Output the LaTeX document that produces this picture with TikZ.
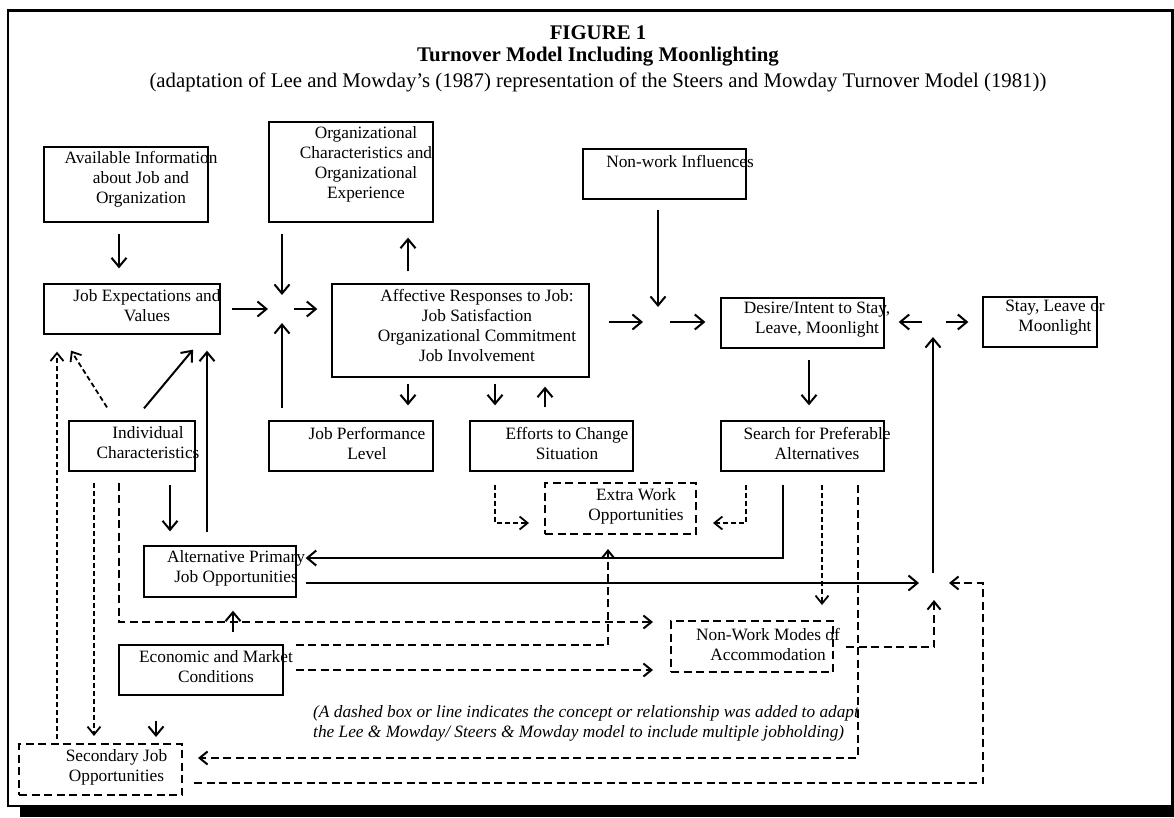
\documentclass[tikz,border=0pt]{standalone}
\usepackage{fontspec}
\setmainfont{Liberation Serif}
\usetikzlibrary{arrows.meta,calc}
\begin{document}
\begin{tikzpicture}[x=1pt,y=-1pt,
  box/.style={draw, rectangle, line width=1.3pt, inner sep=0pt},
  dbox/.style={draw, rectangle, line width=2pt, dash pattern=on 8pt off 4.5pt, inner sep=0pt},
  txt/.style={inner sep=0pt, align=center, font=\fontsize{17.3}{20}\selectfont},
  ttl/.style={inner sep=0pt, font=\fontsize{20.8}{24}\selectfont},
  arr/.style={line width=2pt, -{Straight Barb[length=9pt,width=15pt]}},
  darr/.style={line width=2pt, dash pattern=on 8pt off 4.5pt, -{Straight Barb[length=8pt,width=13pt]}},
  sdarr/.style={line width=1.8pt, dash pattern=on 5pt off 3pt, -{Straight Barb[length=8pt,width=13pt]}}
]
\useasboundingbox (0,0) rectangle (1174,817);
% frame with shadow
\fill[black] (20,806) rectangle (1174,817);
\draw[line width=2.5pt] (8,10.5) rectangle (1172.5,806);

% titles
\node[ttl,font=\fontsize{20.8}{24}\selectfont\bfseries] (t1) at (598,33) {FIGURE 1};
\node[ttl,font=\fontsize{20.8}{24}\selectfont\bfseries] (t2) at (598,57) {Turnover Model Including Moonlighting};
\node[ttl] (t3) at (598,82) {(adaptation of Lee and Mowday’s (1987) representation of the Steers and Mowday Turnover Model (1981))};

% boxes
\node[box, minimum width=164pt, minimum height=75pt] (ai) at (126,184.5) {};
\node[box, minimum width=164pt, minimum height=100pt] (oc) at (351,172) {};
\node[box, minimum width=163pt, minimum height=50pt] (nw) at (664.5,174) {};
\node[box, minimum width=176pt, minimum height=50pt] (je) at (132,309) {};
\node[box, minimum width=257pt, minimum height=93pt] (ar) at (460.5,330.5) {};
\node[box, minimum width=163pt, minimum height=50pt] (di) at (802.5,323) {};
\node[box, minimum width=114pt, minimum height=50pt] (st) at (1040,322) {};
\node[box, minimum width=126pt, minimum height=50pt] (ic) at (132,446) {};
\node[box, minimum width=164pt, minimum height=50pt] (jp) at (351,446) {};
\node[box, minimum width=163pt, minimum height=50pt] (ec) at (551.5,446) {};
\node[box, minimum width=163pt, minimum height=50pt] (sp) at (802.5,446) {};
\node[dbox, minimum width=151pt, minimum height=51pt] (ew) at (620.5,508.5) {};
\node[box, minimum width=152pt, minimum height=51pt] (ap) at (220,571.5) {};
\node[box, minimum width=164pt, minimum height=50pt] (emc) at (201,670) {};
\node[dbox, minimum width=162pt, minimum height=51pt] (nm) at (752,646.5) {};
\node[dbox, minimum width=163pt, minimum height=51pt] (sj) at (100.5,769.5) {};

% texts
\node[txt] (ait) at (141,179) {Available Information\\about Job and\\Organization};
\node[txt] (oct) at (366,164) {Organizational\\Characteristics and\\Organizational\\Experience};
\node[txt] (nwt) at (680,161) {Non-work Influences};
\node[txt] (jet) at (147,305.5) {Job Expectations and\\Values};
\node[txt] (art) at (477,325) {Affective Responses to Job:\\Job Satisfaction\\Organizational Commitment\\Job Involvement};
\node[txt] (dit) at (817,320) {Desire/Intent to Stay,\\Leave, Moonlight};
\node[txt] (stt) at (1055,318) {Stay, Leave or\\Moonlight};
\node[txt] (ict) at (148,443) {Individual\\Characteristics};
\node[txt] (jpt) at (367,443) {Job Performance\\Level};
\node[txt] (ect) at (567,443) {Efforts to Change\\Situation};
\node[txt] (spt) at (817,443) {Search for Preferable\\Alternatives};
\node[txt] (ewt) at (636,506) {Extra Work\\Opportunities};
\node[txt] (apt) at (236,568.5) {Alternative Primary\\Job Opportunities};
\node[txt] (emct) at (216,667) {Economic and Market\\Conditions};
\node[txt] (nmt) at (768,644) {Non-Work Modes of\\Accommodation};
\node[txt] (sjt) at (116.5,767) {Secondary Job\\Opportunities};
\node[txt, align=left, anchor=west, font=\fontsize{17.3}{20}\selectfont\itshape] (note) at (313,723)
  {(A dashed box or line indicates the concept or relationship was added to adapt\\the Lee \& Mowday/ Steers \& Mowday model to include multiple jobholding)};

% junctions
\coordinate (J1) at (282,309);
\coordinate (J2) at (658,322);
\coordinate (J3) at (933,322);
\coordinate (J4) at (933,583);

% solid connectors
\draw[arr] ($(ai.south)+(-7,11)$) -- ($(je.north)+(-13,-15)$);
\draw[arr] ($(oc.south)+(-69,11)$) -- ($(J1)+(0,-14)$);
\draw[arr] ($(je.east)+(11,0)$) -- ($(J1)+(-14,0)$);
\draw[arr] ($(jp.north)+(-69,-12)$) -- ($(J1)+(0,14)$);
\draw[arr] ($(J1)+(12,0)$) -- ($(ar.west |- J1)+(-14,0)$);
\draw[arr] ($(ar.north)+(-52.5,-12)$) -- ($(oc.south)+(57,15)$);
\draw[arr] ($(ar.south)+(-52.5,6)$) -- ($(jp.north)+(57,-15)$);
\draw[arr] ($(ar.south)+(34.5,6)$) -- ($(ec.north)+(-56.5,-15)$);
\draw[arr] ($(ec.north)+(-6.5,-13)$) -- ($(ar.south)+(84.5,9)$);
\draw[arr] ($(ar.east |- J2)+(19,0)$) -- ($(J2)+(-15,0)$);
\draw[arr] ($(nw.south)+(-6.5,10)$) -- ($(J2)+(0,-15)$);
\draw[arr] ($(J2)+(12,0)$) -- ($(di.west |- J2)+(-15,0)$);
\draw[arr] ($(J3)+(-11,0)$) -- ($(di.east |- J3)+(14,0)$);
\draw[arr] ($(J3)+(13,0)$) -- ($(st.west |- J3)+(-14,0)$);
\draw[arr] ($(J4)+(0,-10)$) -- ($(J3)+(0,15)$);
\draw[arr] ($(di.south)+(6.5,11)$) -- ($(sp.north)+(6.5,-15)$);
\draw[arr] ($(ic.north)+(12,-12)$) -- ($(je.south)+(61,15)$);
\draw[arr] ($(ap.north)+(-13,-13)$) -- ($(je.south)+(75,16)$);
\draw[arr] ($(ic.south)+(38,13)$) -- ($(ap.north)+(-50,-14)$);
\draw[arr] ($(emc.north)+(32,-12)$) -- ($(ap.south)+(13,13)$);
\draw[arr] ($(emc.south)+(-45,25)$) -- ($(sj.north)+(55.5,-6)$);
\draw[arr] ($(ap.east)+(9,11.5)$) -- ($(J4)+(-14,0)$);
\draw[arr] ($(sp.south)+(-19.5,13)$) |- ($(ap.east)+(9,-13.5)$);

% dashed connectors
\draw[sdarr] ($(ic.north)+(-25,-13)$) -- ($(je.south)+(-61,16)$);
\draw[sdarr] ($(sj.north)+(-43.5,-4)$) -- ($(je.south)+(-75,17)$);
\draw[sdarr] ($(ic.south)+(-38,11)$) -- ($(sj.north)+(-6.5,-7)$);
\draw[darr] ($(ic.south)+(-13,11)$) |- ($(nm.west)+(-17,-24.5)$);
\draw[darr] ($(emc.east)+(12,-25)$) -| ($(ew.south)+(-12.5,14)$);
\draw[darr] ($(emc.east)+(12,0)$) -- ($(nm.west)+(-17,23.5)$);
\draw[sdarr] ($(ec.south)+(-56.5,13)$) |- ($(ew.west)+(-15,14.5)$);
\draw[sdarr] ($(sp.south)+(-56.5,13)$) |- ($(ew.east)+(16,14.5)$);
\draw[sdarr] ($(sp.south)+(19.5,13)$) -- ($(nm.north)+(70,-15)$);
\draw[darr] ($(sp.south)+(55.5,13)$) |- ($(sj.east)+(15,-11.5)$);
\draw[darr] ($(nm.east)+(12,0.5)$) -| ($(J4)+(1,17)$);
\draw[darr] ($(sj.east)+(11,13.5)$) -| ($(J4)+(50,0)$) -- ($(J4)+(16,0)$);
\end{tikzpicture}
\end{document}
